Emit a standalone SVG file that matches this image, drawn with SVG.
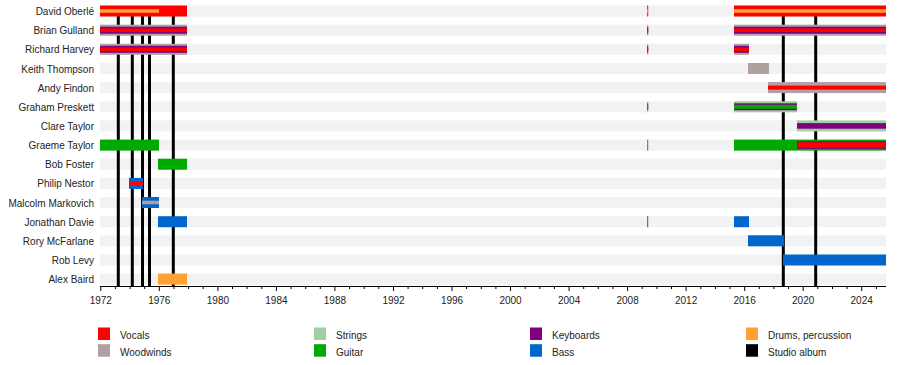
<svg xmlns="http://www.w3.org/2000/svg" width="900" height="365" viewBox="0 0 900 365">
<style>
.v{fill:#ff0000}.w{fill:#b0a0a0}.s{fill:#a0cfa0}.g{fill:#00aa00}.k{fill:#800080}.b{fill:#0066cc}.d{fill:#ffa030}.al{fill:#000}
.st{fill:#f2f2f2}
.lbl{font-family:"Liberation Sans",Arial,sans-serif;font-size:10px;fill:#222;text-anchor:end}
.ax{font-family:"Liberation Sans",Arial,sans-serif;font-size:10px;fill:#222;text-anchor:middle}
.lg{font-family:"Liberation Sans",Arial,sans-serif;font-size:10px;fill:#222}
</style>
<rect width="900" height="365" fill="#fff"/>
<g id="stripes">
<rect class="st" x="100" y="5.5" width="786" height="11"/>
<rect class="st" x="100" y="24.7" width="786" height="11"/>
<rect class="st" x="100" y="43.8" width="786" height="11"/>
<rect class="st" x="100" y="63" width="786" height="11"/>
<rect class="st" x="100" y="82.1" width="786" height="11"/>
<rect class="st" x="100" y="101.3" width="786" height="11"/>
<rect class="st" x="100" y="120.4" width="786" height="11"/>
<rect class="st" x="100" y="139.6" width="786" height="11"/>
<rect class="st" x="100" y="158.7" width="786" height="11"/>
<rect class="st" x="100" y="177.9" width="786" height="11"/>
<rect class="st" x="100" y="197" width="786" height="11"/>
<rect class="st" x="100" y="216.2" width="786" height="11"/>
<rect class="st" x="100" y="235.3" width="786" height="11"/>
<rect class="st" x="100" y="254.5" width="786" height="11"/>
<rect class="st" x="100" y="273.6" width="786" height="11"/>
</g>
<g id="connectors">
<rect class="al" x="116.8" y="8" width="3" height="278"/>
<rect class="al" x="130.8" y="8" width="3" height="278"/>
<rect class="al" x="141" y="8" width="3" height="278"/>
<rect class="al" x="148" y="8" width="3" height="278"/>
<rect class="al" x="171.8" y="8" width="3" height="278"/>
<rect class="al" x="781.8" y="8" width="3" height="278"/>
<rect class="al" x="814.2" y="8" width="3" height="278"/>
</g>
<g id="david-oberle" transform="translate(0,11)">
<text class="lbl" x="94" y="4">David Oberlé</text>
<rect class="v" x="100" y="-5.5" width="87" height="11"/>
<rect class="d" x="100" y="-1.8" width="59" height="3.6"/>
<rect class="v" x="647.2" y="-5.5" width="1" height="11"/>
<rect class="d" x="647.2" y="-1.8" width="1" height="3.6"/>
<rect class="v" x="734" y="-5.5" width="152" height="11"/>
<rect class="d" x="734" y="-1.8" width="152" height="3.6"/>
</g>
<g id="brian-gulland" transform="translate(0,30.2)">
<text class="lbl" x="94" y="4">Brian Gulland</text>
<rect class="w" x="100" y="-5.5" width="87" height="11"/>
<rect class="k" x="100" y="-3.5" width="87" height="7"/>
<rect class="v" x="100" y="-1.8" width="87" height="3.6"/>
<rect class="w" x="647.2" y="-5.5" width="1" height="11"/>
<rect class="k" x="647.2" y="-3.5" width="1" height="7"/>
<rect class="v" x="647.2" y="-1.8" width="1" height="3.6"/>
<rect class="w" x="734" y="-5.5" width="152" height="11"/>
<rect class="k" x="734" y="-3.5" width="152" height="7"/>
<rect class="v" x="734" y="-1.8" width="152" height="3.6"/>
</g>
<g id="richard-harvey" transform="translate(0,49.3)">
<text class="lbl" x="94" y="4">Richard Harvey</text>
<rect class="w" x="100" y="-5.5" width="87" height="11"/>
<rect class="k" x="100" y="-3.5" width="87" height="7"/>
<rect class="v" x="100" y="-1.8" width="87" height="3.6"/>
<rect class="w" x="647.2" y="-5.5" width="1" height="11"/>
<rect class="k" x="647.2" y="-3.5" width="1" height="7"/>
<rect class="v" x="647.2" y="-1.8" width="1" height="3.6"/>
<rect class="w" x="734" y="-5.5" width="15" height="11"/>
<rect class="k" x="734" y="-3.5" width="15" height="7"/>
<rect class="v" x="734" y="-1.8" width="15" height="3.6"/>
</g>
<g id="keith-thompson" transform="translate(0,68.5)">
<text class="lbl" x="94" y="4">Keith Thompson</text>
<rect class="w" x="748" y="-5.5" width="21" height="11"/>
</g>
<g id="andy-findon" transform="translate(0,87.6)">
<text class="lbl" x="94" y="4">Andy Findon</text>
<rect class="w" x="768" y="-5.5" width="118" height="11"/>
<rect class="v" x="768" y="-2" width="118" height="4"/>
</g>
<g id="graham-preskett" transform="translate(0,106.8)">
<text class="lbl" x="94" y="4">Graham Preskett</text>
<rect class="s" x="647.2" y="-5.5" width="1" height="11"/>
<rect class="k" x="647.2" y="-3.5" width="1" height="7"/>
<rect class="g" x="647.2" y="-2" width="1" height="4"/>
<rect class="s" x="734" y="-5.5" width="63" height="11"/>
<rect class="k" x="734" y="-3.5" width="63" height="7"/>
<rect class="g" x="734" y="-2" width="63" height="4"/>
</g>
<g id="clare-taylor" transform="translate(0,125.9)">
<text class="lbl" x="94" y="4">Clare Taylor</text>
<rect class="s" x="797" y="-5.5" width="89" height="11"/>
<rect class="k" x="797" y="-2.8" width="89" height="5.6"/>
</g>
<g id="graeme-taylor" transform="translate(0,145.1)">
<text class="lbl" x="94" y="4">Graeme Taylor</text>
<rect class="g" x="100" y="-5.5" width="59" height="11"/>
<rect class="g" x="647.2" y="-5.5" width="1" height="11"/>
<rect class="g" x="734" y="-5.5" width="152" height="11"/>
<rect class="k" x="797" y="-3.8" width="89" height="7.6"/>
<rect class="v" x="797.5" y="-2.8" width="88.5" height="5.6"/>
</g>
<g id="bob-foster" transform="translate(0,164.2)">
<text class="lbl" x="94" y="4">Bob Foster</text>
<rect class="g" x="158" y="-5.5" width="29" height="11"/>
</g>
<g id="philip-nestor" transform="translate(0,183.4)">
<text class="lbl" x="94" y="4">Philip Nestor</text>
<rect class="b" x="129" y="-5.5" width="14" height="11"/>
<rect class="v" x="129" y="-1.8" width="14" height="3.6"/>
</g>
<g id="malcolm-markovich" transform="translate(0,202.5)">
<text class="lbl" x="94" y="4">Malcolm Markovich</text>
<rect class="b" x="142" y="-5.5" width="17" height="11"/>
<rect class="w" x="142" y="-1.8" width="17" height="3.6"/>
</g>
<g id="jonathan-davie" transform="translate(0,221.7)">
<text class="lbl" x="94" y="4">Jonathan Davie</text>
<rect class="b" x="158" y="-5.5" width="29" height="11"/>
<rect class="b" x="647.2" y="-5.5" width="1" height="11"/>
<rect class="b" x="734" y="-5.5" width="15" height="11"/>
</g>
<g id="rory-mcfarlane" transform="translate(0,240.8)">
<text class="lbl" x="94" y="4">Rory McFarlane</text>
<rect class="b" x="748" y="-5.5" width="36" height="11"/>
</g>
<g id="rob-levy" transform="translate(0,260)">
<text class="lbl" x="94" y="4">Rob Levy</text>
<rect class="b" x="783" y="-5.5" width="103" height="11"/>
</g>
<g id="alex-baird" transform="translate(0,279.1)">
<text class="lbl" x="94" y="4">Alex Baird</text>
<rect class="d" x="158" y="-5.5" width="29" height="11"/>
</g>
<g id="axis">
<path d="M100 286.5H886" stroke="#000" stroke-width="1" fill="none"/>
<path stroke="#000" stroke-width="1" fill="none" d="M100.8 286v5M159.3 286v5M217.9 286v5M276.4 286v5M334.9 286v5M393.5 286v5M452 286v5M510.5 286v5M569.1 286v5M627.6 286v5M686.1 286v5M744.7 286v5M803.2 286v5M861.7 286v5"/>
<path stroke="#000" stroke-width="1" fill="none" d="M115.4 286v3M130.1 286v3M144.7 286v3M174 286v3M188.6 286v3M203.2 286v3M232.5 286v3M247.1 286v3M261.8 286v3M291 286v3M305.7 286v3M320.3 286v3M349.6 286v3M364.2 286v3M378.8 286v3M408.1 286v3M422.7 286v3M437.4 286v3M466.6 286v3M481.3 286v3M495.9 286v3M525.2 286v3M539.8 286v3M554.4 286v3M583.7 286v3M598.3 286v3M613 286v3M642.2 286v3M656.9 286v3M671.5 286v3M700.8 286v3M715.4 286v3M730 286v3M759.3 286v3M773.9 286v3M788.6 286v3M817.8 286v3M832.5 286v3M847.1 286v3M876.4 286v3"/>
<text class="ax" x="100.8" y="303.5">1972</text>
<text class="ax" x="159.3" y="303.5">1976</text>
<text class="ax" x="217.9" y="303.5">1980</text>
<text class="ax" x="276.4" y="303.5">1984</text>
<text class="ax" x="334.9" y="303.5">1988</text>
<text class="ax" x="393.5" y="303.5">1992</text>
<text class="ax" x="452" y="303.5">1996</text>
<text class="ax" x="510.5" y="303.5">2000</text>
<text class="ax" x="569.1" y="303.5">2004</text>
<text class="ax" x="627.6" y="303.5">2008</text>
<text class="ax" x="686.1" y="303.5">2012</text>
<text class="ax" x="744.7" y="303.5">2016</text>
<text class="ax" x="803.2" y="303.5">2020</text>
<text class="ax" x="861.7" y="303.5">2024</text>
</g>
<g id="legend">
<g id="legend-vocals"><rect class="v" x="98" y="327.5" width="12" height="12.5"/><text class="lg" x="120" y="339">Vocals</text></g>
<g id="legend-woodwinds"><rect class="w" x="98" y="344.2" width="12" height="12.5"/><text class="lg" x="120" y="356">Woodwinds</text></g>
<g id="legend-strings"><rect class="s" x="314" y="327.5" width="12" height="12.5"/><text class="lg" x="336" y="339">Strings</text></g>
<g id="legend-guitar"><rect class="g" x="314" y="344.2" width="12" height="12.5"/><text class="lg" x="336" y="356">Guitar</text></g>
<g id="legend-keyboards"><rect class="k" x="530" y="327.5" width="12" height="12.5"/><text class="lg" x="552" y="339">Keyboards</text></g>
<g id="legend-bass"><rect class="b" x="530" y="344.2" width="12" height="12.5"/><text class="lg" x="552" y="356">Bass</text></g>
<g id="legend-drums"><rect class="d" x="746" y="327.5" width="12" height="12.5"/><text class="lg" x="768" y="339">Drums, percussion</text></g>
<g id="legend-album"><rect class="al" x="746" y="344.2" width="12" height="12.5"/><text class="lg" x="768" y="356">Studio album</text></g>
</g>
</svg>
